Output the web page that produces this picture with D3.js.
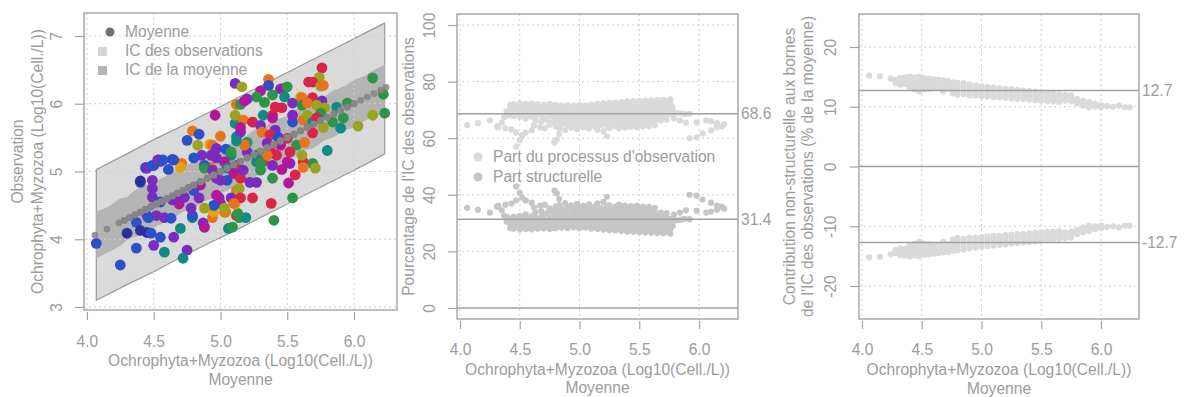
<!DOCTYPE html>
<html lang="fr">
<head>
<meta charset="utf-8">
<title>IC des observations</title>
<script src="https://d3js.org/d3.v7.min.js"></script>
<style>
  html, body { margin: 0; padding: 0; background: #fff; }
  svg { display: block; font-family: "Liberation Sans", Arial, sans-serif; }
  .lab { fill: #9c9c9c; font-size: 15.6px; }
</style>
</head>
<body>
<svg id="chart" width="1187" height="397"></svg>
<script>
// ---- data ----
const xTicks = [4.0, 4.5, 5.0, 5.5, 6.0];
const p1YTicks = [3, 4, 5, 6, 7];
const p2YTicks = [0, 20, 40, 60, 80, 100];
const p3YTicks = [-20, -10, 0, 10, 20];
const xTitle = "Ochrophyta+Myzozoa (Log10(Cell./L))";
const xSub = "Moyenne";

const palette = ["#2b50c8", "#2e2f9e", "#7a2cc0", "#b3169a", "#d9244a",
                 "#e8731e", "#e3a310", "#9ba31f", "#2e9448", "#0f8a84"];

// observation points: [moyenne, observation, colour group]
const observations = [
  [5.11,6.30,2],[5.16,6.25,7],[5.36,6.36,5],[5.36,6.27,0],[5.30,6.19,3],[5.27,6.10,8],[5.76,6.53,4],[5.74,6.39,7],
  [5.69,6.32,4],[5.66,6.32,4],[5.75,6.26,7],[5.77,6.27,5],[5.45,6.22,2],[5.48,6.23,3],[5.50,6.25,8],[5.48,6.10,9],
  [5.60,6.10,6],[5.61,6.09,5],[5.20,6.07,2],[5.12,5.99,5],[5.15,5.99,8],[6.14,6.38,8],[6.22,6.14,8],[6.23,5.86,8],
  [6.14,5.83,7],[6.03,5.67,7],[5.80,5.31,9],[5.95,6.01,8],[5.87,5.95,9],[5.92,5.79,8],[5.90,5.64,9],[4.96,5.83,3],
  [4.79,5.60,5],[4.84,5.55,0],[5.00,5.52,5],[4.75,5.46,0],[4.83,5.39,7],[4.92,5.40,6],[4.94,5.39,5],[4.97,5.34,2],
  [5.04,5.33,0],[5.11,5.71,9],[5.11,5.83,7],[4.55,5.15,0],[4.53,5.17,2],[4.64,5.18,0],[4.71,5.12,5],[4.44,5.06,2],
  [4.50,5.09,0],[4.86,5.24,2],[5.08,5.24,9],[4.40,4.84,0],[5.33,6.02,8],[5.39,6.13,8],[5.54,6.01,2],[5.69,6.09,4],
  [5.76,6.04,2],[5.18,6.04,3],[5.41,5.95,4],[5.46,5.94,4],[5.32,5.83,9],[5.39,5.83,4],[5.72,5.98,7],[5.78,5.94,7],
  [5.24,5.73,7],[5.41,5.61,2],[5.69,5.57,4],[5.57,5.39,8],[5.63,5.43,5],[5.54,5.73,0],[5.39,5.27,4],[5.42,5.24,4],
  [5.69,5.12,8],[5.62,5.14,4],[5.52,5.12,2],[5.62,5.76,5],[5.65,5.83,7],[5.61,5.24,7],[5.27,5.14,9],[5.32,5.15,4],
  [4.07,3.94,0],[4.25,3.62,0],[4.37,3.87,0],[4.30,4.09,1],[4.37,4.25,0],[4.45,4.35,2],[4.40,4.86,1],[4.49,4.87,2],
  [4.49,4.62,2],[4.44,5.05,0],[4.61,5.03,0],[4.55,4.03,0],[4.58,3.81,9],[4.75,3.84,2],[4.72,3.72,9],[4.65,4.03,2],
  [4.70,4.16,9],[4.45,4.10,1],[4.48,4.09,0],[4.52,4.35,2],[4.58,4.32,2],[4.63,4.31,0],[4.50,3.91,2],[4.40,4.13,1],
  [4.69,4.61,2],[4.69,4.52,3],[4.80,4.72,0],[4.84,4.61,2],[4.79,4.32,9],[4.88,4.18,8],[4.94,4.32,5],[4.95,4.40,6],
  [4.99,4.61,2],[5.00,4.53,3],[5.04,4.40,7],[5.12,4.35,4],[5.14,4.32,8],[5.05,4.87,0],[4.97,4.90,2],[5.12,4.72,5],
  [5.12,4.61,6],[5.06,4.16,9],[5.24,4.61,4],[5.38,4.53,4],[5.51,4.83,3],[5.54,4.61,8],[5.19,4.32,9],[5.40,4.28,8],
  [5.39,4.90,8],[5.56,4.95,4],[5.62,5.06,5],[5.71,5.05,7],[5.27,4.84,2],[5.22,4.84,2],[5.09,4.18,8],[5.13,4.38,8],
  [4.87,4.24,2],[4.88,4.18,3],[5.03,4.40,5],[5.11,4.52,6],[4.79,4.35,0],
  [5.03,5.14,3],[5.12,5.09,4],[5.08,5.06,8],[4.93,5.06,5],[4.97,5.20,2],[4.88,5.09,0],[4.70,5.06,6],[4.88,5.05,8],
  [4.94,5.02,2],[5.05,5.05,9],[5.10,4.97,3],[5.15,4.90,4],[5.00,4.87,2],[4.85,4.80,3],[5.14,4.75,7],[5.08,4.61,2],
  [5.15,4.61,4],[5.10,4.53,5],[4.95,4.50,0],[4.73,4.62,2],[5.03,4.46,7],[4.78,4.46,2],[4.88,4.46,7],[4.97,4.65,3],
  [5.17,5.76,5],[5.24,5.73,4],[5.30,5.68,2],[5.31,5.58,5],[5.39,5.79,3],[5.37,5.54,4],[5.43,5.51,0],[5.20,5.43,8],
  [5.35,5.42,2],[5.45,5.39,3],[5.50,5.49,4],[5.20,5.29,2],[5.27,5.24,9],[5.35,5.24,5],[5.30,5.12,8],[5.39,5.09,2],
  [5.50,5.14,3],[5.52,5.29,4],[5.75,5.86,8],[5.69,5.73,9],[5.77,5.65,7],[5.84,5.73,8],[5.54,5.83,2],[5.61,5.98,8],
  [5.65,6.01,5],[5.72,5.79,4],[5.12,5.51,9],[5.15,5.58,2],[5.08,5.29,8],[5.18,5.39,5],[4.93,5.24,2],[4.80,5.20,0],
  [5.15,5.65,3],[5.12,5.45,9],[4.45,5.05,2],[4.49,5.09,0],[4.54,5.17,2],[4.57,5.17,0],[4.65,5.17,0],[4.46,4.32,0],
  [4.49,4.75,2],[4.55,4.55,0],[4.64,4.58,2],[5.17,5.02,2],[5.30,5.02,8],[5.46,5.03,3]
];

// confidence bands: [moyenne, low, high]
const obsCI = [
  [4.07,3.10,5.03],[4.30,3.33,5.26],[4.50,3.52,5.47],[4.70,3.73,5.66],[4.90,3.93,5.86],[5.10,4.12,6.06],
  [5.30,4.32,6.26],[5.50,4.52,6.46],[5.70,4.72,6.66],[5.90,4.92,6.86],[6.10,5.12,7.06],[6.23,5.26,7.19]
];
const meanCI = [
  [4.07,3.72,4.41],[4.15,3.80,4.47],[4.25,3.90,4.60],[4.30,3.99,4.62],[4.35,4.03,4.71],[4.42,4.07,4.79],
  [4.50,4.17,4.84],[4.58,4.25,4.92],[4.65,4.31,5.01],[4.72,4.41,5.05],[4.80,4.46,5.16],[4.88,4.56,5.20],
  [4.95,4.61,5.30],[5.02,4.69,5.36],[5.10,4.77,5.44],[5.18,4.86,5.51],[5.25,4.91,5.61],[5.33,5.01,5.65],
  [5.40,5.05,5.76],[5.48,5.16,5.80],[5.55,5.21,5.91],[5.63,5.31,5.96],[5.70,5.35,6.06],[5.78,5.46,6.11],
  [5.85,5.51,6.20],[5.93,5.61,6.26],[6.00,5.65,6.35],[6.08,5.75,6.41],[6.15,5.80,6.50],[6.23,5.88,6.57]
];

// part du processus d'observation (%), columns [moyenne, values]
const partObs = [
  [4.06,[64.6]],[4.15,[65.3]],[4.25,[66.3]],[4.31,[64.2]],[4.32,[63.8]],[4.35,[65.5]],[4.37,[67.4]],[4.38,[63.5]],
  [4.39,[69.5]],[4.40,[68.0]],[4.42,[70.2,71.8,68.9]],[4.43,[63.1]],[4.45,[72.0,69.5,67.8,70.5]],[4.47,[57.1,62.0]],
  [4.48,[71.5,70.0,68.4]],[4.50,[72.3,70.8,69.2,67.5,59.3]],[4.52,[61.0]],[4.53,[71.2,69.8,68.1]],
  [4.55,[72.1,70.5,68.8,66.9,62.0]],[4.58,[71.7,69.9,68.3]],[4.60,[72.2,70.9,69.4,67.6,62.8]],[4.62,[64.5]],
  [4.63,[71.4,69.7,68.0,66.2]],[4.65,[72.0,70.6,68.9]],[4.67,[63.8]],[4.68,[71.3,69.5,67.9,65.8]],
  [4.70,[71.9,70.4,68.6,67.0]],[4.71,[63.5]],[4.73,[71.0,69.2,66.5]],[4.75,[72.1,70.2,68.3,64.8,65.3]],
  [4.78,[71.5,69.8,67.4,65.9]],[4.79,[58.5]],[4.80,[71.8,70.3,68.7,66.8,64.2]],[4.81,[59.5]],
  [4.83,[71.2,69.5,67.9,65.4,63.6,61.5]],[4.85,[71.6,70.0,68.4,66.5,64.9]],[4.88,[71.1,69.3,67.2,65.6,62.9]],
  [4.90,[71.7,70.1,68.6,66.9,64.5]],[4.93,[71.0,69.7,67.8,65.2,63.7]],[4.95,[71.5,69.9,68.1,66.4,64.8]],
  [4.98,[71.2,70.4,68.9,67.0,65.3,63.2]],[5.00,[71.8,70.0,68.3,66.6,64.6]],[5.03,[71.3,69.6,67.7,65.9,63.9]],
  [5.05,[71.6,70.2,68.5,66.8,65.0]],[5.08,[71.0,69.4,67.5,65.4,63.4]],[5.10,[71.9,70.3,68.8,67.1,64.9]],
  [5.13,[71.4,69.8,68.0,66.3,64.1]],[5.15,[72.1,70.5,68.9,67.2,65.6,63.0]],[5.18,[71.5,69.9,68.2,66.5,64.7]],
  [5.20,[72.3,70.7,69.1,67.4,65.8,62.5]],[5.23,[71.8,70.1,68.4,66.7,64.3,60.7]],[5.25,[72.5,70.9,69.3,67.6,65.9,63.6]],
  [5.28,[71.9,70.2,68.6,66.9,65.1]],[5.30,[72.6,71.0,69.4,67.8,66.0,64.2]],[5.33,[72.0,70.4,68.7,67.0,65.3,63.5]],
  [5.35,[72.8,71.2,69.6,67.9,66.2,64.5]],[5.38,[72.2,70.6,68.9,67.2,65.5,63.8]],[5.40,[73.0,71.4,69.8,68.1,66.4,64.7]],
  [5.43,[72.4,70.8,69.1,67.4,65.7,64.0]],[5.45,[73.1,71.5,69.9,68.2,66.5,64.8]],[5.48,[72.5,70.9,69.2,67.5,65.8,63.9]],
  [5.50,[73.2,71.6,70.0,68.3,66.6,64.9]],[5.53,[72.6,71.0,69.3,67.6,65.9,64.2]],[5.55,[73.3,71.7,70.1,68.4,66.7,65.0]],
  [5.58,[72.7,71.1,69.4,67.7,66.0,64.3]],[5.60,[73.4,71.8,70.2,68.5,66.8,65.2]],[5.63,[72.8,71.2,69.5,67.8,66.1,64.6]],
  [5.65,[73.5,71.9,70.3,68.6,66.9]],[5.68,[72.9,71.3,69.6,67.9,66.3]],[5.70,[73.6,72.0,70.4,68.7,67.0]],
  [5.73,[73.0,71.4,69.7,68.0,66.5]],[5.76,[73.7,72.1,70.5,68.8]],[5.78,[71.0,69.8,68.2]],[5.79,[67.0]],
  [5.82,[69.0]],[5.84,[66.3]],[5.85,[68.8]],[5.88,[68.5]],[5.89,[65.5]],[5.92,[68.6,60.0]],[5.98,[60.3,65.6]],
  [6.03,[61.7]],[6.06,[66.3]],[6.10,[66.0,62.8]],[6.15,[65.3,63.8]],[6.19,[64.2]],[6.21,[64.9]]
];
const partObsMean = 68.6, partStructMean = 31.4;

// contribution non-structurelle (% de la moyenne), columns [moyenne, values]
const contrib = [
  [4.06,[15.2]],[4.15,[15.1]],[4.24,[14.7]],[4.28,[14.5,14.0]],[4.32,[14.8,14.2,13.7]],[4.36,[14.9,14.4,13.8]],
  [4.40,[15.0,14.6,14.0,13.2]],[4.44,[14.9,14.3,13.6,12.9]],[4.48,[15.0,14.5,13.9,13.1,12.6]],
  [4.52,[14.8,14.2,13.5,12.9]],[4.56,[14.7,14.1,13.4,13.0]],[4.60,[14.6,14.0,13.3]],[4.64,[14.5,13.9,13.2]],
  [4.68,[14.4,13.8,13.1,12.6]],[4.72,[14.3,13.7,13.0]],[4.76,[14.1,13.5,12.8,12.2]],[4.80,[14.0,13.4,12.7,12.0]],
  [4.85,[13.9,13.3,12.6,12.1]],[4.90,[13.7,13.1,12.5,11.9]],[4.95,[13.6,13.0,12.4,11.9]],[5.00,[13.4,12.9,12.3,11.8]],
  [5.05,[13.3,12.8,12.2,11.7]],[5.10,[13.2,12.7,12.1,11.6]],[5.15,[13.1,12.6,12.0,11.6]],[5.20,[13.0,12.5,11.9,11.5]],
  [5.25,[12.9,12.4,11.9,11.4]],[5.30,[12.8,12.3,11.8,11.3]],[5.35,[12.7,12.2,11.7,11.3]],[5.40,[12.6,12.1,11.6,11.2]],
  [5.45,[12.5,12.0,11.5,11.1]],[5.50,[12.4,11.9,11.4,11.0]],[5.55,[12.3,11.8,11.3,10.9]],[5.60,[12.2,11.7,11.2,10.9]],
  [5.65,[12.1,11.6,11.1,10.8]],[5.70,[12.0,11.5,11.0]],[5.75,[11.9,11.4,10.9]],[5.80,[11.3,10.9,10.6]],
  [5.85,[11.0,10.6,10.2]],[5.90,[10.8,10.2,9.9]],[5.95,[10.5,10.0]],[6.00,[10.3,9.9]],[6.05,[10.1]],
  [6.10,[10.0]],[6.15,[10.2]],[6.20,[9.9]],[6.24,[9.9]]
];
const contribMean = 12.7;

// ---- drawing ----
const svg = d3.select("#chart");
const axisCol = "#a3a3a3", gridCol = "#cfcfcf";
const flat = cols => cols.flatMap(([x, vs]) => vs.map(v => [x, v]));

function panel(o) {
  const x = d3.scaleLinear().domain(o.xDomain).range([o.left, o.right]);
  const y = d3.scaleLinear().domain(o.yDomain).range([o.bottom, o.top]);
  const g = svg.append("g");
  return { g, x, y, o };
}

function grid(p, yTicks) {
  const { g, x, y, o } = p;
  const gg = g.append("g").attr("stroke", gridCol).attr("stroke-dasharray", "2,3");
  gg.selectAll(".gx").data(xTicks).join("line")
    .attr("x1", d => x(d)).attr("x2", d => x(d)).attr("y1", o.top).attr("y2", o.bottom);
  gg.selectAll(".gy").data(yTicks).join("line")
    .attr("x1", o.left).attr("x2", o.right).attr("y1", d => y(d)).attr("y2", d => y(d));
}

function frame(p, yTicks) {
  const { g, x, y, o } = p;
  g.append("rect")
    .attr("x", o.left).attr("y", o.top)
    .attr("width", o.right - o.left).attr("height", o.bottom - o.top)
    .attr("fill", "none").attr("stroke", axisCol).attr("stroke-width", 1.4);

  const ax = g.append("g").attr("transform", `translate(0,${o.bottom + 2})`)
    .call(d3.axisBottom(x).tickValues(xTicks).tickSize(8).tickFormat(d3.format(".1f")));
  ax.select(".domain").remove();
  ax.selectAll("line").attr("stroke", axisCol).attr("stroke-width", 1.2);
  ax.selectAll("text").attr("class", "lab").attr("y", o.xLabOff).attr("dy", "0.35em")
    .style("font-size", null).attr("fill", null);

  const ay = g.append("g").attr("transform", `translate(${o.left},0)`)
    .call(d3.axisLeft(y).tickValues(yTicks).tickSize(9).tickFormat(d => String(d)));
  ay.select(".domain").remove();
  ay.selectAll("line").attr("stroke", axisCol).attr("stroke-width", 1.2);
  ay.selectAll("text").attr("class", "lab").attr("x", 0).attr("y", 0).attr("dy", "0.35em")
    .attr("text-anchor", "middle")
    .attr("transform", `translate(${o.yLabOff},0) rotate(-90)`)
    .attr("fill", null);
  ax.attr("font-size", null).attr("font-family", null);
  ay.attr("font-size", null).attr("font-family", null);

  // titles
  const cx = (o.left + o.right) / 2, cy = (o.top + o.bottom) / 2;
  g.append("text").attr("class", "lab").attr("x", cx).attr("y", o.xTitleY)
    .attr("text-anchor", "middle").attr("dy", "0.35em").text(xTitle);
  g.append("text").attr("class", "lab").attr("x", cx).attr("y", o.xTitleY + 18.5)
    .attr("text-anchor", "middle").attr("dy", "0.35em").text(xSub);
  o.yTitles.forEach(([tx, txt]) => {
    g.append("text").attr("class", "lab")
      .attr("transform", `translate(${tx},${cy}) rotate(-90)`)
      .attr("text-anchor", "middle").attr("dy", "0.35em").text(txt);
  });
}

function refLine(p, v, label) {
  const { g, x, y, o } = p;
  g.append("line").attr("x1", o.left).attr("x2", o.right).attr("y1", y(v)).attr("y2", y(v))
    .attr("stroke", "#a0a0a0").attr("stroke-width", 1.5);
  if (label) {
    g.append("text").attr("class", "lab").attr("x", o.right + 3).attr("y", y(v))
      .attr("dy", "0.35em").text(label);
  }
}

// ---- panel 1 : observation vs moyenne ----
const p1 = panel({ left: 84, right: 397, top: 13, bottom: 310,
  xDomain: [3.978, 6.322], yDomain: [2.956, 7.339],
  xLabOff: 30, yLabOff: -27, xTitleY: 361,
  yTitles: [[18, "Observation"], [38, xTitle]] });

const area1 = d3.area().x(d => p1.x(d[0])).y0(d => p1.y(d[1])).y1(d => p1.y(d[2]));
p1.g.append("path").datum(obsCI).attr("d", area1)
  .attr("fill", "#dadada").attr("stroke", "#9a9a9a").attr("stroke-width", 1.2);
p1.g.append("path").datum(meanCI).attr("d", area1)
  .attr("fill", "#b4b4b4");
grid(p1, p1YTicks);

p1.g.append("g").selectAll("circle").data(observations).join("circle")
  .attr("cx", d => p1.x(d[0])).attr("cy", d => p1.y(d[1])).attr("r", 5.4)
  .attr("fill", d => palette[d[2]]);

const meanX = flat(contrib).map(d => d[0]);
p1.g.append("g").selectAll("circle").data(meanX).join("circle")
  .attr("cx", d => p1.x(d)).attr("cy", d => p1.y(d)).attr("r", 3.4)
  .attr("fill", "#858585").attr("fill-opacity", 0.85);

frame(p1, p1YTicks);

const leg1 = p1.g.append("g");
leg1.append("circle").attr("cx", 110).attr("cy", 32).attr("r", 4.5).attr("fill", "#707070");
leg1.append("rect").attr("x", 98).attr("y", 47).attr("width", 9).attr("height", 9).attr("fill", "#d6d6d6");
leg1.append("rect").attr("x", 98).attr("y", 66).attr("width", 9).attr("height", 9).attr("fill", "#b4b4b4");
[["Moyenne", 32], ["IC des observations", 51], ["IC de la moyenne", 70]].forEach(([t, ty]) => {
  leg1.append("text").attr("class", "lab").attr("x", 125).attr("y", ty).attr("dy", "0.35em").text(t);
});

// ---- panel 2 : pourcentage de l'IC ----
const p2 = panel({ left: 457, right: 738, top: 14, bottom: 319,
  xDomain: [3.975, 6.326], yDomain: [-3.9, 103.9],
  xLabOff: 29, yLabOff: -27, xTitleY: 369.5,
  yTitles: [[409, "Pourcentage de l'IC des observations"]] });
grid(p2, p2YTicks.filter(d => d !== 0));
const obsPts = flat(partObs);
p2.g.append("g").selectAll("circle").data(obsPts).join("circle")
  .attr("cx", d => p2.x(d[0])).attr("cy", d => p2.y(100 - d[1])).attr("r", 3.1).attr("fill", "#c6c6c6");
p2.g.append("g").selectAll("circle").data(obsPts).join("circle")
  .attr("cx", d => p2.x(d[0])).attr("cy", d => p2.y(d[1])).attr("r", 3.1).attr("fill", "#dadada");
refLine(p2, 0);
refLine(p2, partObsMean, "68.6");
refLine(p2, partStructMean, "31.4");
frame(p2, p2YTicks);

const leg2 = p2.g.append("g");
[["Part du processus d'observation", 157, "#dadada"], ["Part structurelle", 177, "#c6c6c6"]].forEach(([t, ty, c]) => {
  leg2.append("circle").attr("cx", 478).attr("cy", ty).attr("r", 4.5).attr("fill", c);
  leg2.append("text").attr("class", "lab").attr("x", 493).attr("y", ty).attr("dy", "0.35em").text(t);
});

// ---- panel 3 : contribution non-structurelle ----
const p3 = panel({ left: 859, right: 1139, top: 14, bottom: 319,
  xDomain: [3.975, 6.318], yDomain: [-25.52, 25.52],
  xLabOff: 29, yLabOff: -28, xTitleY: 370,
  yTitles: [[790, "Contribution non-structurelle aux bornes"], [808, "de l'IC des observations (% de la moyenne)"]] });
grid(p3, p3YTicks.filter(d => d !== 0));
const cPts = flat(contrib);
p3.g.append("g").selectAll("circle").data(cPts).join("circle")
  .attr("cx", d => p3.x(d[0])).attr("cy", d => p3.y(d[1])).attr("r", 3.1).attr("fill", "#dadada");
p3.g.append("g").selectAll("circle").data(cPts).join("circle")
  .attr("cx", d => p3.x(d[0])).attr("cy", d => p3.y(-d[1])).attr("r", 3.1).attr("fill", "#dadada");
refLine(p3, 0);
refLine(p3, contribMean, "12.7");
refLine(p3, -contribMean, "-12.7");
frame(p3, p3YTicks);
</script>
</body>
</html>
